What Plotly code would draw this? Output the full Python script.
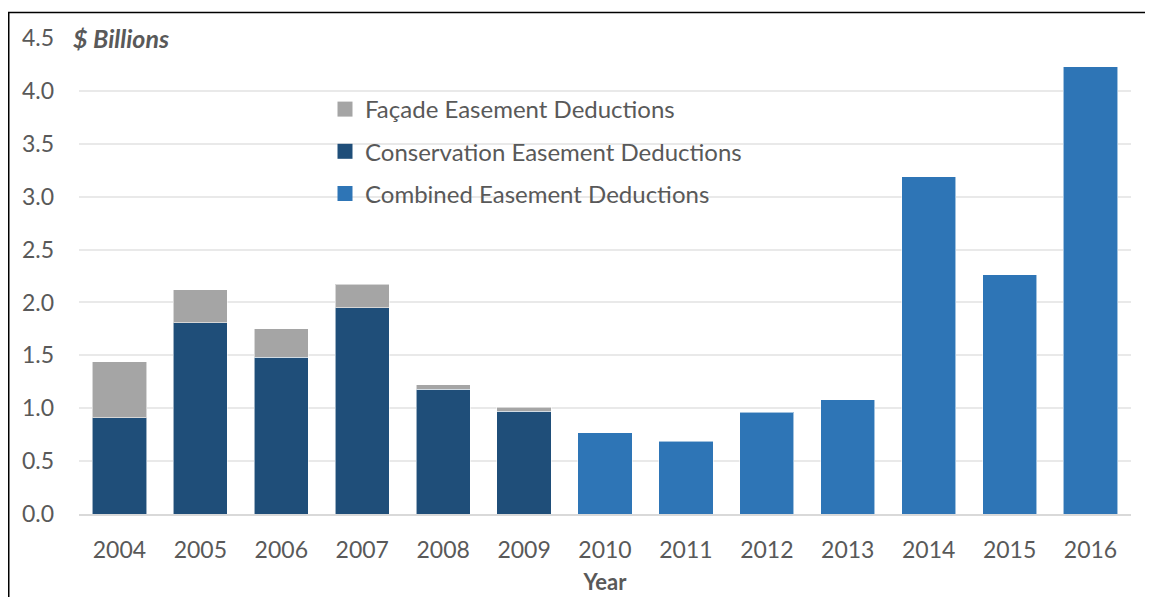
import plotly.graph_objects as go

years = ["2004", "2005", "2006", "2007", "2008", "2009", "2010",
         "2011", "2012", "2013", "2014", "2015", "2016"]
conservation = [0.91, 1.81, 1.48, 1.95, 1.18, 0.97, None, None, None, None, None, None, None]
facade = [0.53, 0.31, 0.27, 0.22, 0.04, 0.04, None, None, None, None, None, None, None]
combined = [None, None, None, None, None, None, 0.77, 0.69, 0.96, 1.08, 3.19, 2.26, 4.23]
y_ticks = [0.0, 0.5, 1.0, 1.5, 2.0, 2.5, 3.0, 3.5, 4.0, 4.5]

FONT = "Lato"
TXT = "#595959"
C_FAC, C_CON, C_COM = "#a5a5a5", "#1f4e79", "#2e75b6"
outline = dict(color="rgba(255,255,255,0.55)", width=1)

series = [
    # name, values, colour, legend rank
    ("Conservation Easement Deductions", conservation, C_CON, 2),
    ("Façade Easement Deductions", facade, C_FAC, 1),
    ("Combined Easement Deductions", combined, C_COM, 3),
]

fig = go.Figure()
for name, vals, col, rank in series:
    fig.add_trace(go.Bar(x=years, y=vals, name=name, showlegend=False,
                         marker=dict(color=col, line=outline), legendgroup=name))
# legend entries with larger square swatches
for name, vals, col, rank in series:
    fig.add_trace(go.Scatter(x=[None], y=[None], mode="markers", name=name,
                             marker=dict(symbol="square", size=15, color=col),
                             legendrank=rank, legendgroup=name, hoverinfo="skip"))

# page body has an 8px margin; figure sized so the plot sits where the reference has it
OFF = 8
W, H = 1145, 589
L, R, T, B = 71, 22, 30, 83
pw, ph = W - L - R, H - T - B

def px_x(x):  # screen x -> paper
    return (x - OFF - L) / pw

def px_y(y):  # screen y -> paper
    return (H - B - (y - OFF)) / ph

fx0, fx1 = px_x(8.75), px_x(1300)
fy0, fy1 = px_y(700), px_y(12.5)
frame_path = f"M {fx0},{fy0} L {fx0},{fy1} L {fx1},{fy1}"

fig.update_layout(
    width=W, height=H,
    margin=dict(l=L, r=R, t=T, b=B, autoexpand=False),
    paper_bgcolor="white", plot_bgcolor="white",
    barmode="stack", bargap=0.33,
    font=dict(family=FONT, color=TXT, size=23),
    showlegend=True,
    legend=dict(
        x=px_x(325), y=px_y(87), xanchor="left", yanchor="top",
        bgcolor="rgba(0,0,0,0)", traceorder="grouped", tracegroupgap=8,
        font=dict(family=FONT, size=24, color=TXT),
    ),
    xaxis=dict(
        type="category", showgrid=False, showline=True, linecolor="#d9d9d9", linewidth=2,
        automargin=False,
        ticks="", tickfont=dict(size=23, color=TXT), ticklabelstandoff=14,
        title=dict(text="<b>Year</b>", font=dict(size=22, color=TXT), standoff=13),
    ),
    yaxis=dict(
        range=[0, 4.5], tickvals=y_ticks, ticktext=[f"{v:.1f}" for v in y_ticks],
        automargin=False,
        showgrid=True, gridcolor="#e9e9e9", gridwidth=1.5, zeroline=False,
        showline=False, ticks="", tickfont=dict(size=23, color=TXT), ticklabelstandoff=24,
    ),
    shapes=[
        # white box behind legend (interrupts gridlines)
        dict(type="rect", xref="paper", yref="paper", x0=px_x(282), x1=px_x(808),
             y0=px_y(226), y1=px_y(68), fillcolor="white", line=dict(width=0), layer="between"),
        # outer frame (left and top edges visible)
        dict(type="path", xref="paper", yref="paper", path=frame_path,
             line=dict(color="black", width=1.5), layer="above"),
    ],
    annotations=[
        dict(text="<b><i>$ Billions</i></b>", xref="paper", yref="y", x=px_x(68), y=4.5,
             xanchor="left", yanchor="middle", showarrow=False, bgcolor="white",
             font=dict(family=FONT, size=25, color=TXT), borderpad=4),
    ],
)

fig.write_html(
    "out.html",
    post_script="document.documentElement.style.overflow='hidden';"
                "document.body.style.overflow='hidden';",
)
